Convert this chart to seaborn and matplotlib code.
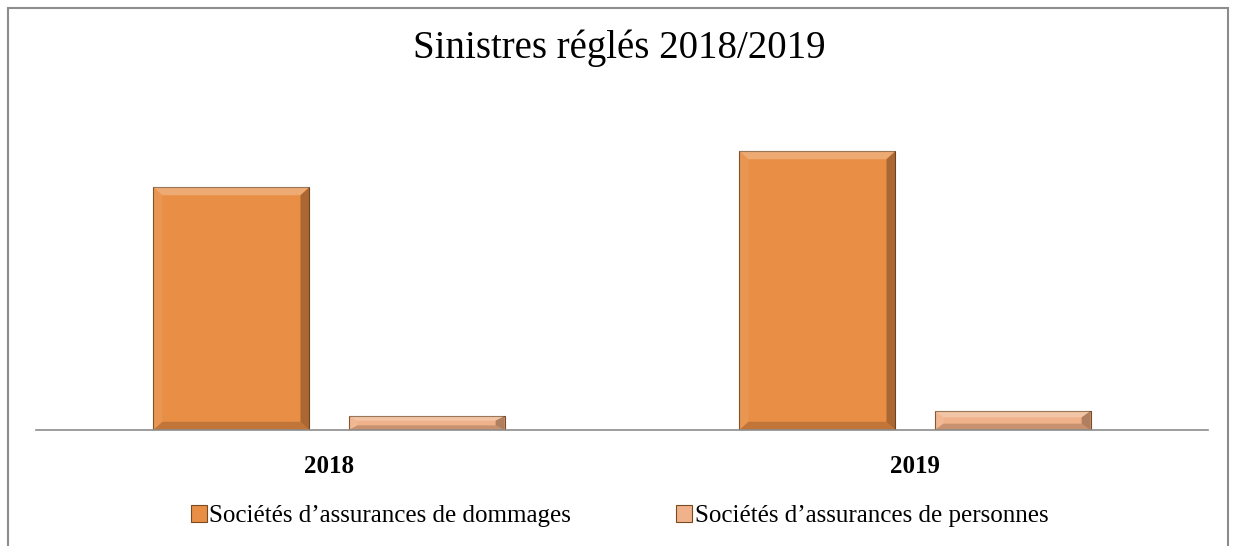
import numpy as np
import pandas as pd
import matplotlib
matplotlib.use("Agg")
import matplotlib.pyplot as plt
from matplotlib.patches import Rectangle, Polygon
import seaborn as sns

# data (relative bar heights, no value axis shown)
years = ["2018", "2019"]
dommages = [243, 279]
personnes = [14, 19]
series_names = ["Sociétés d\u2019assurances de dommages",
                "Sociétés d\u2019assurances de personnes"]
colors = ["#E88E45", "#F0B28A"]

df = pd.DataFrame({
    "year": years * 2,
    "value": dommages + personnes,
    "series": [series_names[0]] * 2 + [series_names[1]] * 2,
})

sns.set_style("white")
plt.rcParams["font.family"] = ["Liberation Serif", "DejaVu Serif"]
plt.rcParams["text.color"] = "black"
plt.rcParams["xtick.color"] = "black"

fig = plt.figure(figsize=(12.39, 5.46), dpi=100)
ax = fig.add_axes([36 / 1239, 1 - 430 / 546, (1208 - 36) / 1239, 320 / 546])

sns.barplot(data=df, x="year", y="value", hue="series", palette=colors,
            width=0.666, gap=0.2, ax=ax, legend=True, saturation=1,
            edgecolor="#7a4a22", linewidth=0.8)

# bevel effect on each bar
inv = ax.transData.inverted()
(dx0, dy0) = inv.transform((0, 0))
(dx1, dy1) = inv.transform((9, 9))
for p in list(ax.patches):
    x0, y0 = p.get_x(), p.get_y()
    w, h = p.get_width(), p.get_height()
    if h <= 0:
        continue
    bx = min(dx1 - dx0, w / 4)
    by = min(dy1 - dy0, h / 3)
    tx, ty = x0 + w, y0 + h
    top = Polygon([(x0, ty), (tx, ty), (tx - bx, ty - by), (x0 + bx, ty - by)],
                  closed=True, facecolor="white", alpha=0.25, lw=0)
    left = Polygon([(x0, y0), (x0, ty), (x0 + bx, ty - by), (x0 + bx, y0 + by)],
                   closed=True, facecolor="white", alpha=0.08, lw=0)
    right = Polygon([(tx, y0), (tx, ty), (tx - bx, ty - by), (tx - bx, y0 + by)],
                    closed=True, facecolor="#3a2010", alpha=0.35, lw=0)
    bottom = Polygon([(x0, y0), (tx, y0), (tx - bx, y0 + by), (x0 + bx, y0 + by)],
                     closed=True, facecolor="#3a2010", alpha=0.22, lw=0)
    for poly in (top, left, right, bottom):
        ax.add_patch(poly)

ax.set_xlim(-0.5, 1.5)
ax.set_ylim(0, 320)
ax.set_xlabel("")
ax.set_ylabel("")
ax.set_yticks([])
for s in ["top", "right", "left"]:
    ax.spines[s].set_visible(False)
ax.spines["bottom"].set_color("#8c8c8c")
ax.spines["bottom"].set_linewidth(1.2)
ax.tick_params(axis="x", length=0, pad=18, labelsize=18, labelcolor="black")
for lab in ax.get_xticklabels():
    lab.set_fontweight("bold")

handles, labels = ax.get_legend_handles_labels()
ax.legend_.remove()
fig.legend(handles, labels, loc="center", bbox_to_anchor=(0.5, 1 - 516 / 546),
           ncol=2, frameon=False, fontsize=18, handlelength=0.65, handleheight=0.65,
           handletextpad=0.1, columnspacing=4.2, labelcolor="black")

fig.text(0.5, 1 - 48 / 546, "Sinistres réglés 2018/2019", ha="center",
         va="center", fontsize=28, color="black")

# outer chart border
fig.patches.append(Rectangle((8 / 1239, -0.02), (1228 - 8) / 1239, 1.02 - 8 / 546,
                             transform=fig.transFigure, fill=False,
                             edgecolor="#8c8c8c", linewidth=1.5))

fig.savefig("out.png", dpi=100)
